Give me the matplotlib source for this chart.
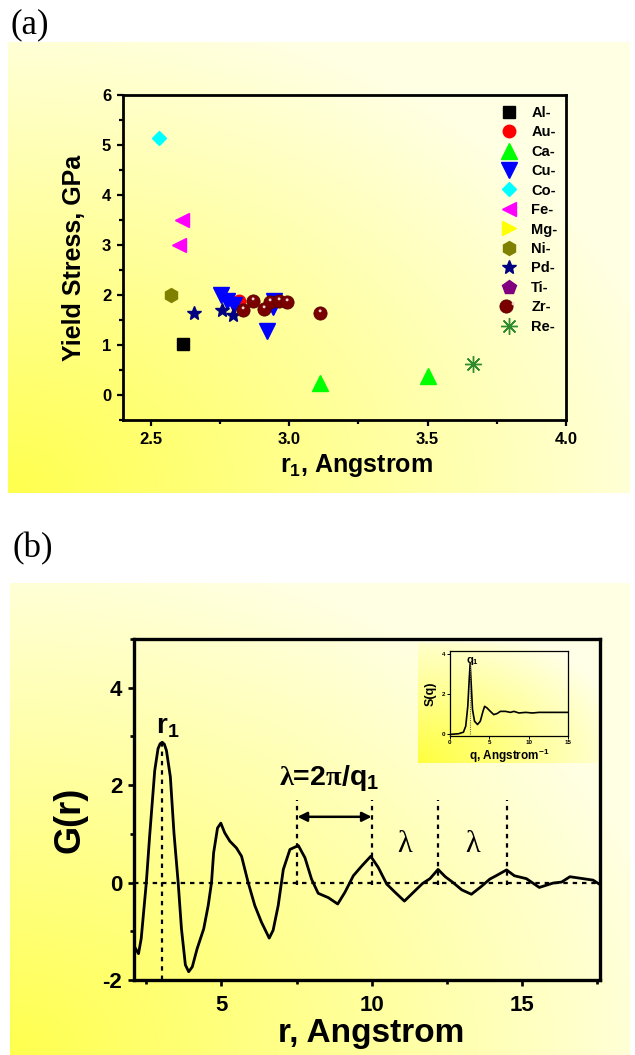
import numpy as np
import matplotlib
matplotlib.use("Agg")
import matplotlib.pyplot as plt
from matplotlib.path import Path
from matplotlib.ticker import MultipleLocator
from matplotlib.legend_handler import HandlerTuple

plt.rcParams['font.family'] = ['Liberation Sans', 'DejaVu Sans']
plt.rcParams['font.weight'] = 'bold'
plt.rcParams['axes.labelweight'] = 'bold'
plt.rcParams['axes.unicode_minus'] = False
plt.rcParams['mathtext.fontset'] = 'custom'
plt.rcParams['mathtext.rm'] = 'Liberation Serif'
plt.rcParams['mathtext.bf'] = 'Liberation Sans:bold'
plt.rcParams['mathtext.it'] = 'Liberation Serif:italic'
plt.rcParams['mathtext.default'] = 'bf'

# ---- panel (a): yield stress vs first-shell radius r1 ----
al_r, al_s = [2.617], [1.02]
au_r, au_s = [2.819], [1.89]
ca_r, ca_s = [3.11, 3.50], [0.25, 0.38]
cu_r = [2.755, 2.775, 2.800, 2.945, 2.940, 2.920]
cu_s = [1.99, 1.88, 1.80, 1.88, 1.76, 1.29]
co_r, co_s = [2.53], [5.13]
fe_r, fe_s = [2.613, 2.603], [3.49, 2.99]
mg_r, mg_s = [], []
ni_r, ni_s = [2.573], [1.99]
pd_r, pd_s = [2.658, 2.756, 2.797], [1.64, 1.70, 1.59]
ti_r, ti_s = [], []
zr_r = [2.833, 2.870, 2.910, 2.931, 2.963, 2.994, 3.112]
zr_s = [1.70, 1.88, 1.72, 1.86, 1.88, 1.86, 1.64]
re_r, re_s = [3.664], [0.63]

# ---- panel (b): pair distribution G(r) ----
r_vals = [2.09, 2.24, 2.33, 2.41, 2.5, 2.61, 2.78, 2.89, 2.96, 3.03, 3.10, 3.17, 3.30,
          3.42, 3.56, 3.67, 3.80, 3.91, 4.03, 4.19, 4.41, 4.56, 4.67, 4.74, 4.87, 4.98,
          5.11, 5.28, 5.50, 5.67, 5.89, 6.11, 6.33, 6.59, 6.72, 6.89, 7.06, 7.28,
          7.56, 7.78, 8.00, 8.22, 8.56, 8.87, 9.11, 9.39, 9.67, 9.97, 10.22, 10.50,
          10.78, 11.09, 11.39, 11.69, 11.94, 12.21, 12.45, 12.71, 13.00, 13.32,
          13.65, 13.93, 14.20, 14.49, 14.75, 15.15, 15.58, 16.04, 16.32, 16.60,
          17.04, 17.37, 17.6]
g_vals = [-1.30, -1.46, -1.15, -0.61, 0.0, 0.95, 2.30, 2.75, 2.85, 2.88, 2.84, 2.71,
          2.17, 1.02, 0.0, -0.95, -1.69, -1.83, -1.73, -1.36, -0.95, -0.47, 0.0, 0.61,
          1.12, 1.22, 1.02, 0.85, 0.71, 0.54, 0.0, -0.47, -0.81, -1.14, -0.98, -0.47,
          0.27, 0.68, 0.76, 0.51, 0.07, -0.22, -0.31, -0.44, -0.20, 0.14, 0.34, 0.54,
          0.31, -0.03, -0.20, -0.38, -0.20, -0.02, 0.08, 0.27, 0.12, 0.0, -0.15, -0.24,
          -0.08, 0.07, 0.16, 0.26, 0.14, 0.08, -0.10, -0.01, 0.01, 0.12,
          0.08, 0.05, -0.04]
r1_pos, r1_peak = 3.03, 2.88
lambda_marks = [7.53, 10.0, 12.21, 14.49]

# inset S(q)
q_vals = [0, 1.07, 1.71, 2.0, 2.26, 2.44, 2.56, 2.69, 2.86, 3.12, 3.5, 3.85, 4.19,
          4.4, 4.7, 5.13, 5.56, 5.98, 6.41, 7.05, 7.69, 8.12, 8.76, 9.62, 10.47,
          11.32, 12.6, 15]
s_vals = [0, 0.03, 0.11, 0.41, 1.39, 2.7, 3.51, 2.53, 1.23, 0.65, 0.49, 0.65, 1.14,
          1.39, 1.31, 1.14, 0.98, 1.03, 1.14, 1.14, 1.09, 1.14, 1.06, 1.09, 1.06,
          1.09, 1.09, 1.09]
q1_pos, q1_peak = 2.6, 3.5

W, H = 635, 1055
fig = plt.figure(figsize=(W / 100, H / 100), dpi=100)


def fbox(l, t, r, b):
    return [l / W, 1 - b / H, (r - l) / W, (b - t) / H]


def add_bg(box, z, reach=1.1, pale=228, deep=150):
    bg = fig.add_axes(fbox(*box), zorder=z)
    u = np.linspace(0, 1, 300)[None, :]
    v = np.linspace(1, 0, 300)[:, None]
    s = np.clip(1 - np.sqrt(u ** 2 + v ** 2) / reach, 0, 1)
    img = np.ones((300, 300, 3))
    img[..., 2] = (pale - deep * s) / 255
    bg.imshow(img, aspect='auto', interpolation='bilinear')
    bg.axis('off')
    return bg


def style_axes(ax, lw, maj, mino, size, pad=3.5):
    for sp in ax.spines.values():
        sp.set_linewidth(lw)
    ax.tick_params(which='both', direction='out', top=False, right=False,
                   width=lw * 0.8, labelsize=size, pad=pad)
    ax.tick_params(which='major', length=maj)
    ax.tick_params(which='minor', length=mino)
    ax.patch.set_alpha(0)


add_bg((8, 42, 630, 493), 0)
add_bg((10, 583, 630, 1055), 0)

fig.text(10 / W, 1 - 8 / H, '(a)', family='Liberation Serif', weight='normal',
         fontsize=25, va='top', ha='left')
fig.text(12 / W, 1 - 532 / H, '(b)', family='Liberation Serif', weight='normal',
         fontsize=25, va='top', ha='left')

# ---------------- panel (a) ----------------
ax1 = fig.add_axes(fbox(123, 95, 566, 420), zorder=1)
style_axes(ax1, 2.0, 4.5, 3, 12, pad=4)
ax1.set_xlim(2.4, 4.0)
ax1.set_ylim(-0.5, 6)
ax1.xaxis.set_major_locator(MultipleLocator(0.5))
ax1.xaxis.set_minor_locator(MultipleLocator(0.25))
ax1.yaxis.set_major_locator(MultipleLocator(1))
ax1.yaxis.set_minor_locator(MultipleLocator(0.5))
ax1.xaxis.set_major_formatter(plt.FormatStrFormatter('%.1f'))

series = [
    (al_r, al_s, 's', '#000000', 8, 'Al-'),
    (au_r, au_s, 'o', '#ff0000', 9, 'Au-'),
    (ca_r, ca_s, '^', '#00ff00', 11, 'Ca-'),
    (cu_r, cu_s, 'v', '#0000ff', 11, 'Cu-'),
    (co_r, co_s, 'D', '#00ffff', 7, 'Co-'),
    (fe_r, fe_s, '<', '#ff00ff', 10, 'Fe-'),
    (mg_r, mg_s, '>', '#ffff00', 10, 'Mg-'),
    (ni_r, ni_s, 'h', '#808000', 10, 'Ni-'),
    (pd_r, pd_s, '*', '#000080', 10, 'Pd-'),
    (ti_r, ti_s, 'p', '#800080', 10, 'Ti-'),
]
handles = []
for xs, ys, mk, col, ms, lab in series:
    h, = ax1.plot(xs, ys, ls='none', marker=mk, color=col, ms=ms, mec=col, label=lab)
    handles.append(h)

# Zr: dark red spheres with a small highlight near the top
circ = Path.circle(center=(-0.03, 0.2), radius=0.11)
hl_path = Path(np.vstack([[[0.5, 0.5]], circ.vertices]),
               np.concatenate([[Path.MOVETO], circ.codes]))
zr_h, = ax1.plot(zr_r, zr_s, ls='none', marker='o', color='#7a0000', mec='#5a0000',
                 mew=0.6, ms=9.5)
zr_hl, = ax1.plot(zr_r, zr_s, ls='none', marker=hl_path, color='#f0d0d0', mew=0,
                  ms=9.5)
re_h, = ax1.plot(re_r, re_s, ls='none', marker=(8, 2, 0), color='#2e8b2e', ms=12,
                 mew=1.0)
handles += [(zr_h, zr_hl), re_h]
labels = [s[-1] for s in series] + ['Zr-', 'Re-']
ax1.legend(handles, labels, loc='upper left', bbox_to_anchor=(0.856, 0.967),
           borderaxespad=0, borderpad=0, frameon=False, fontsize=10.5,
           handlelength=1.0, handletextpad=1.0, labelspacing=0.375,
           handler_map={tuple: HandlerTuple(ndivide=None)})

ax1.set_xlabel('r$_1$, Angstrom', fontsize=18)
ax1.set_ylabel('Yield Stress, GPa', fontsize=18)
ax1.xaxis.set_label_coords(0.528, -0.098)
ax1.yaxis.set_label_coords(-0.084, 0.5)

# ---------------- panel (b) ----------------
ax2 = fig.add_axes(fbox(134, 639, 600, 980), zorder=1)
style_axes(ax2, 2.4, 4.5, 3, 16, pad=6)
ax2.set_xlim(2.09, 17.6)
ax2.set_ylim(-2, 5)
ax2.xaxis.set_major_locator(MultipleLocator(5))
ax2.xaxis.set_minor_locator(MultipleLocator(2.5))
ax2.yaxis.set_major_locator(MultipleLocator(2))
ax2.yaxis.set_minor_locator(MultipleLocator(1))
ax2.tick_params(axis='y', pad=4)

ax2.plot(r_vals, g_vals, color='black', lw=2.0, solid_joinstyle='round')
ax2.axhline(0, color='black', lw=1.6, ls=(0, (2, 2.2)))
ax2.vlines([r1_pos], -2, r1_peak, color='black', lw=1.6, ls=(0, (2, 2.2)))
ax2.vlines(lambda_marks, -0.05, 1.7, color='black', lw=1.6, ls=(0, (2, 2.2)))
ax2.annotate('', xy=(lambda_marks[0], 1.35), xytext=(lambda_marks[1], 1.35),
             arrowprops=dict(arrowstyle='<|-|>', lw=1.8, color='black',
                             shrinkA=0, shrinkB=0, mutation_scale=14))
ax2.text(2.83, 3.07, 'r$_1$', fontsize=20, ha='left', va='baseline')
ax2.text(6.9, 2.0, r'$\mathrm{\lambda}$=2$\mathrm{\pi}$/q$_1$', fontsize=20.5,
         ha='left', va='baseline')
for lx in [(lambda_marks[1] + lambda_marks[2]) / 2, (lambda_marks[2] + lambda_marks[3]) / 2]:
    ax2.text(lx, 0.63, '\u03bb', family='Liberation Serif', weight='normal',
             fontsize=22, ha='center', va='baseline')

ax2.set_xlabel('r, Angstrom', fontsize=24)
ax2.set_ylabel('G(r)', fontsize=26)
ax2.xaxis.set_label_coords(0.51, -0.112)
ax2.yaxis.set_label_coords(-0.099, 0.469)

# ---------------- inset S(q) ----------------
add_bg((418, 643, 598, 763), 2, reach=1.2, pale=232, deep=170)
ax3 = fig.add_axes(fbox(450, 651, 568, 736), zorder=3)
style_axes(ax3, 0.9, 2, 1.2, 4.5, pad=1.2)
ax3.set_xlim(0, 15)
ax3.set_ylim(-0.08, 4.13)
ax3.xaxis.set_major_locator(MultipleLocator(5))
ax3.yaxis.set_major_locator(MultipleLocator(2))
ax3.plot(q_vals, s_vals, color='black', lw=1.2)
ax3.vlines([q1_pos], 0, q1_peak, color='#666666', lw=0.8, ls=(0, (1, 1)))
ax3.text(2.0, 3.55, 'q$_1$', fontsize=8, ha='left', va='baseline')
ax3.set_ylabel('S(q)', fontsize=9, labelpad=4)
ax3.set_xlabel('q, Angstrom$^{-1}$', fontsize=8.5, labelpad=1)

fig.savefig('out.png', dpi=100)
